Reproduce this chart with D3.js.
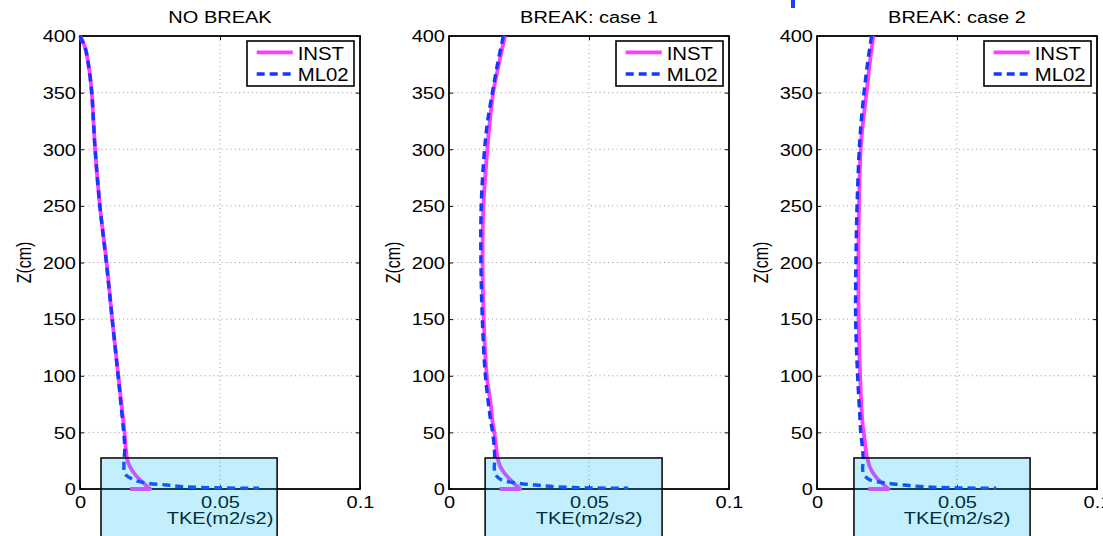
<!DOCTYPE html>
<html>
<head>
<meta charset="utf-8">
<script src="https://cdn.jsdelivr.net/npm/d3@7"></script>
<style>
  body { margin: 0; background: #fff; }
  text { font-family: "Liberation Sans", Arial, sans-serif; fill: #000; }
</style>
</head>
<body>
<div id="chart"></div>
<script>
// Three TKE profiles (INST vs ML02), MATLAB-style subplots

const titles = ["NO BREAK", "BREAK: case 1", "BREAK: case 2"]
const xTicks = [0, 0.05, 0.1]
const xTickLabels = ["0", "0.05", "0.1"]
const yTicks = [0, 50, 100, 150, 200, 250, 300, 350, 400]
const legendNames = ["INST", "ML02"]

// NO BREAK
const instZ1 = [400, 390, 375, 350, 325, 300, 250, 200, 150, 100, 75, 50, 30, 25, 20, 15, 10, 5, 0, 0]
const instX1 = [0, 0.0018, 0.003, 0.0042, 0.0048, 0.0054, 0.0071, 0.0095, 0.0115, 0.0137, 0.0148, 0.0159, 0.0166, 0.0170, 0.0178, 0.0190, 0.0207, 0.0228, 0.025, 0.0179]
const mlZ1 = [400, 390, 375, 350, 325, 300, 250, 200, 150, 100, 75, 50, 35, 28, 22, 15, 12, 9, 7, 5, 3.5, 2, 1, 0.6]
const mlX1 = [0, 0.0018, 0.003, 0.0042, 0.0048, 0.0054, 0.0071, 0.0094, 0.0115, 0.0136, 0.0146, 0.0156, 0.0160, 0.0158, 0.0157, 0.0158, 0.0165, 0.0185, 0.0205, 0.0244, 0.031, 0.037, 0.050, 0.064]

// BREAK: case 1
const instZ2 = [400, 375, 350, 325, 300, 250, 200, 150, 100, 75, 60, 50, 30, 25, 20, 15, 10, 5, 0, 0]
const instX2 = [0.0200, 0.0178, 0.0158, 0.0146, 0.0137, 0.0123, 0.0120, 0.0124, 0.0135, 0.0149, 0.0155, 0.0162, 0.0172, 0.0176, 0.0183, 0.0195, 0.0212, 0.0232, 0.0254, 0.0180]
const mlZ2 = [400, 375, 350, 325, 300, 250, 200, 150, 100, 60, 50, 35, 25, 17, 12, 8, 5.3, 3.5, 2, 1, 0.6]
const mlX2 = [0.0194, 0.0173, 0.0155, 0.0138, 0.0127, 0.0115, 0.0114, 0.0119, 0.0130, 0.0149, 0.0156, 0.0162, 0.0163, 0.0162, 0.0168, 0.0188, 0.0240, 0.031, 0.038, 0.050, 0.064]

// BREAK: case 2
const instZ3 = [400, 375, 350, 325, 300, 250, 200, 150, 100, 60, 50, 30, 25, 20, 15, 10, 5, 0, 0]
const instX3 = [0.0201, 0.0188, 0.0177, 0.0165, 0.0156, 0.0150, 0.0148, 0.0149, 0.0154, 0.0162, 0.0167, 0.0177, 0.0182, 0.0188, 0.0198, 0.0213, 0.0233, 0.0255, 0.0183]
const mlZ3 = [400, 375, 350, 325, 300, 250, 200, 150, 100, 60, 50, 35, 25, 17, 12, 8, 5.3, 3.5, 2, 1, 0.6]
const mlX3 = [0.0195, 0.0180, 0.0168, 0.0158, 0.0151, 0.0143, 0.0139, 0.0138, 0.0145, 0.0154, 0.0156, 0.0163, 0.0165, 0.0163, 0.0170, 0.0190, 0.0245, 0.031, 0.038, 0.050, 0.064]

// highlighted near-bed region (data units)
const boxX0 = [0.0075, 0.0129, 0.0132]
const boxX1 = [0.0704, 0.0761, 0.0761]
const boxZTop = [27.4, 27.4, 27.4]
const boxZBottom = -60

const panels = [
  { inst: [instX1, instZ1], ml: [mlX1, mlZ1] },
  { inst: [instX2, instZ2], ml: [mlX2, mlZ2] },
  { inst: [instX3, instZ3], ml: [mlX3, mlZ3] },
]

const WIDTH = 1103
const HEIGHT = 536
const PANEL_LEFT = [80, 449, 817]
const TOP = 36
const W = 280
const H = 453
const STRETCH = 1.25
const PINK = "#ff3cff"
const BLUE = "#1438ff"
const DASH = "8,5"

const svg = d3.select("#chart")
  .append("svg")
  .attr("width", WIDTH)
  .attr("height", HEIGHT)

const x = d3.scaleLinear().domain([0, 0.1]).range([0, W])
const y = d3.scaleLinear().domain([0, 400]).range([H, 0])

const line = d3.line()
  .x(d => x(d[0]))
  .y(d => y(d[1]))
  .curve(d3.curveCatmullRom.alpha(0.5))

// curve through the profile, then a straight return at the bed
function profilePath(pts, hasTail) {
  if (!hasTail) return line(pts)
  const last = pts[pts.length - 1]
  return line(pts.slice(0, -1)) + `L${x(last[0])},${y(last[1])}`
}

function zipXY(xs, zs) { return xs.map((v, i) => [v, zs[i]]) }

panels.forEach((p, i) => {
  const g = svg.append("g")
    .attr("transform", `translate(${PANEL_LEFT[i]},${TOP})`)

  // dotted grid
  g.selectAll(".gx")
    .data(xTicks.slice(1, -1))
    .enter().append("line")
    .attr("x1", d => x(d)).attr("x2", d => x(d))
    .attr("y1", 0).attr("y2", H)
    .attr("stroke", "#8a8a8a").attr("stroke-width", 0.9)
    .attr("stroke-dasharray", "1,3.3")
  g.selectAll(".gy")
    .data(yTicks.slice(1, -1))
    .enter().append("line")
    .attr("x1", 0).attr("x2", W)
    .attr("y1", d => y(d)).attr("y2", d => y(d))
    .attr("stroke", "#8a8a8a").attr("stroke-width", 0.9)
    .attr("stroke-dasharray", "1,3.3")

  // axes (ticks inward, like MATLAB)
  const ax = g.append("g").attr("transform", `translate(0,${H})`)
    .call(d3.axisBottom(x).tickValues(xTicks).tickSizeInner(-4).tickSizeOuter(0)
      .tickFormat((d, k) => xTickLabels[k]))
  const ay = g.append("g")
    .call(d3.axisLeft(y).tickValues(yTicks).tickSizeInner(-4).tickSizeOuter(0))
  g.append("g")
    .call(d3.axisTop(x).tickValues(xTicks).tickSizeInner(-4).tickSizeOuter(0).tickFormat(""))
  g.append("g").attr("transform", `translate(${W},0)`)
    .call(d3.axisRight(y).tickValues(yTicks).tickSizeInner(-4).tickSizeOuter(0).tickFormat(""))
  g.selectAll(".domain").remove()
  g.selectAll(".tick line").attr("stroke", "#000").attr("stroke-width", 1)

  ax.selectAll("text")
    .attr("x", 0).attr("y", 0).attr("dy", null)
    .attr("transform", `translate(0,19) scale(${STRETCH},1)`)
    .style("font-size", "16px").attr("fill", "#000")
  ay.selectAll("text")
    .attr("x", 0).attr("dy", "0.36em")
    .attr("transform", `translate(-4,0) scale(${STRETCH},1)`)
    .style("font-size", "16px").attr("fill", "#000")

  g.append("rect")
    .attr("width", W).attr("height", H)
    .attr("fill", "none").attr("stroke", "#000").attr("stroke-width", 1.8)

  // profiles
  g.append("path")
    .attr("d", profilePath(zipXY(p.inst[0], p.inst[1]), true))
    .attr("fill", "none").attr("stroke", PINK).attr("stroke-width", 3.8)
    .attr("stroke-linejoin", "round")
  g.append("path")
    .attr("d", profilePath(zipXY(p.ml[0], p.ml[1]), false))
    .attr("fill", "none").attr("stroke", BLUE).attr("stroke-width", 3.4)
    .attr("stroke-dasharray", DASH)

  // title
  g.append("text")
    .attr("transform", `translate(${W / 2},${23 - TOP}) scale(${STRETCH},1)`)
    .attr("text-anchor", "middle")
    .style("font-size", "16px")
    .text(titles[i])

  // axis labels
  g.append("text")
    .attr("transform", `translate(${W / 2},${524 - TOP}) scale(${STRETCH},1)`)
    .attr("text-anchor", "middle")
    .style("font-size", "16px")
    .text("TKE(m2/s2)")
  g.append("text")
    .attr("transform", `translate(-49,${H / 2}) scale(${STRETCH},1) rotate(-90)`)
    .attr("text-anchor", "middle")
    .style("font-size", "16px")
    .text("Z(cm)")

  // legend
  const lg = g.append("g").attr("transform", `translate(${W - 113},5)`)
  lg.append("rect")
    .attr("width", 107).attr("height", 45)
    .attr("fill", "#fff").attr("stroke", "#000").attr("stroke-width", 1.6)
  const styles = [
    { stroke: PINK, width: 3.8, dash: null },
    { stroke: BLUE, width: 3.4, dash: DASH },
  ]
  legendNames.forEach((name, k) => {
    const ly = 11.3 + k * 21.7
    lg.append("line")
      .attr("x1", 9.7).attr("x2", 45.7).attr("y1", ly).attr("y2", ly)
      .attr("stroke", styles[k].stroke).attr("stroke-width", styles[k].width)
      .attr("stroke-dasharray", styles[k].dash)
    lg.append("text")
      .attr("transform", `translate(50.7,${ly + 7.3}) scale(1.1,1)`)
      .style("font-size", "18.5px")
      .text(name)
  })

  // translucent highlight over the near-bed region
  g.append("rect")
    .attr("x", x(boxX0[i]))
    .attr("y", y(boxZTop[i]))
    .attr("width", x(boxX1[i]) - x(boxX0[i]))
    .attr("height", y(boxZBottom) - y(boxZTop[i]))
    .attr("fill", "rgb(0,190,240)").attr("fill-opacity", 0.24)
    .attr("stroke", "#000").attr("stroke-width", 1.5)
})

// stray blue mark at the top edge of the figure
svg.append("rect")
  .attr("x", 791).attr("y", 0).attr("width", 4).attr("height", 8)
  .attr("fill", "#1f3dff")
</script>
</body>
</html>
